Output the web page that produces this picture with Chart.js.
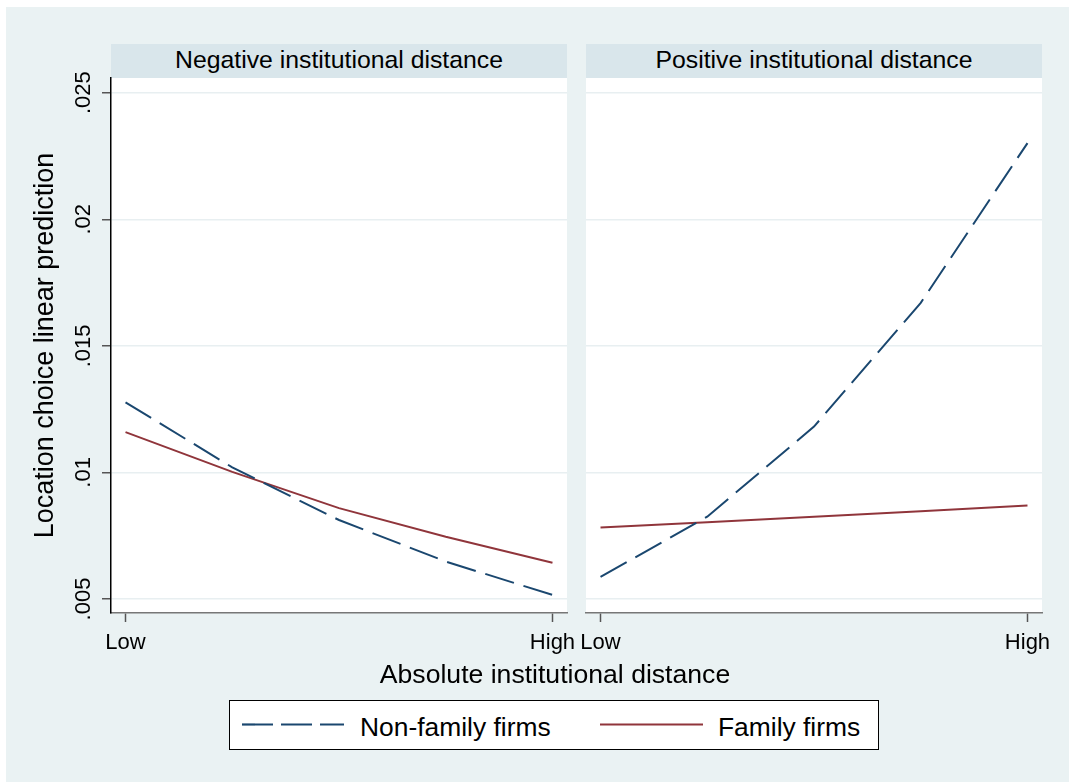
<!DOCTYPE html>
<html>
<head>
<meta charset="utf-8">
<script src="https://cdn.jsdelivr.net/npm/chart.js@4.4.1/dist/chart.umd.min.js"></script>
<style>
body { margin: 0; background: #fff; font-family: 'Liberation Sans', Arial, sans-serif; }
#page { position: relative; width: 1069px; height: 782px; overflow: hidden; }
.abs { position: absolute; }
#bg { left: 6px; top: 7px; right: 0; bottom: 0; background: #eaf2f3; }
.hdr { top: 44px; height: 34px; width: 456px; background: #d9e6eb; font-size: 24.8px; line-height: 32px; text-align: center; color: #000; }
.plot { top: 78px; height: 535px; width: 456px; background: #fff; }
canvas { position: absolute; }
.lg { position: absolute; font-size: 26.4px; line-height: 30px; color: #000; white-space: nowrap; }
</style>
</head>
<body>
<div id="page">
  <div id="bg" class="abs"></div>
  <div class="abs plot" style="left:111px"></div>
  <div class="abs plot" style="left:586px"></div>
  <div class="abs hdr" id="hdr0" style="left:111px"></div>
  <div class="abs hdr" id="hdr1" style="left:586px"></div>
  <canvas id="neg" width="600" height="620" style="left:0;top:40px"></canvas>
  <canvas id="pos" width="509" height="620" style="left:560px;top:40px"></canvas>
  <div class="abs" id="xtitle" style="left:0;width:1110px;top:659px;font-size:26.6px;line-height:30px;text-align:center;color:#000"></div>
  <div class="abs" style="left:229px;top:700px;width:648px;height:48px;border:1.5px solid #000;background:#fff">
    <svg class="abs" style="left:0;top:0" width="648" height="48">
      <line x1="12" y1="23.5" x2="114" y2="23.5" stroke="#1a476f" stroke-width="2.2" stroke-dasharray="31 8"/>
      <line x1="370" y1="23.5" x2="473" y2="23.5" stroke="#90353b" stroke-width="2.2"/>
    </svg>
    <span class="lg" id="lg0" style="left:130px;top:10.5px"></span>
    <span class="lg" id="lg1" style="left:488px;top:10.5px"></span>
  </div>
</div>
<script>
// x positions of the prediction points (Low .. High)
const levels = [0, 0.25, 0.5, 0.75, 1];
const levelLabels = ['Low', 'High'];
const yTicks = [0.005, 0.01, 0.015, 0.02, 0.025];

const seriesNames = ['Non-family firms', 'Family firms'];
const panelTitles = ['Negative institutional distance', 'Positive institutional distance'];

const negNonFamily = [0.01277, 0.01020, 0.00812, 0.00648, 0.00516];
const negFamily    = [0.01159, 0.01002, 0.00859, 0.00746, 0.00643];
const posNonFamily = [0.00587, 0.00825, 0.01181, 0.01670, 0.02301];
const posFamily    = [0.00782, 0.00803, 0.00825, 0.00847, 0.00869];

const yMin = 0.004447;
const yMax = 0.025581;

Chart.defaults.font.family = "'Liberation Sans', Arial, sans-serif";

document.getElementById('hdr0').textContent = panelTitles[0];
document.getElementById('hdr1').textContent = panelTitles[1];
document.getElementById('xtitle').textContent = 'Absolute institutional distance';
document.getElementById('lg0').textContent = seriesNames[0];
document.getElementById('lg1').textContent = seriesNames[1];

function pts(vals) {
  return vals.map((v, i) => ({ x: levels[i], y: v }));
}

function panel(id, nonFam, fam, showY) {
  new Chart(document.getElementById(id), {
    type: 'line',
    data: {
      datasets: [
        { label: seriesNames[0], data: pts(nonFam), borderColor: '#1a476f', borderWidth: 2,
          borderDash: [30, 10], pointRadius: 0, tension: 0, fill: false },
        { label: seriesNames[1], data: pts(fam), borderColor: '#90353b', borderWidth: 2,
          pointRadius: 0, tension: 0, fill: false }
      ]
    },
    options: {
      responsive: false,
      animation: false,
      layout: { padding: showY ? { top: 38, right: 33, left: 0, bottom: 0 } : { top: 38, left: 26, right: 27, bottom: 0 } },
      plugins: { legend: { display: false }, tooltip: { enabled: false } },
      scales: {
        x: {
          type: 'linear', min: -0.034, max: 1.034,
          afterBuildTicks: a => { a.ticks = [{ value: 0 }, { value: 1 }]; },
          afterFit: a => { a.height = 47; a.paddingLeft = 0; a.paddingRight = 0; },
          ticks: {
            callback: v => (v === 0 ? levelLabels[0] : levelLabels[1]),
            font: { size: 22 }, color: '#000', padding: 8,
            minRotation: 0, maxRotation: 0, autoSkip: false
          },
          grid: { drawOnChartArea: false, drawTicks: true, tickLength: 9, tickColor: '#555', tickWidth: 1.5 },
          border: { color: '#777', width: 1.5 }
        },
        y: {
          min: yMin, max: yMax,
          afterBuildTicks: a => { a.ticks = yTicks.map(v => ({ value: v })); },
          afterFit: a => { a.width = showY ? 111 : 0; a.paddingTop = 0; a.paddingBottom = 0; },
          ticks: {
            display: showY,
            callback: v => String(v).replace(/^0/, ''),
            font: { size: 22 }, color: '#000',
            minRotation: 90, maxRotation: 90, crossAlign: 'center', padding: -3, autoSkip: false
          },
          grid: { color: '#e8eff1', lineWidth: 1.5, drawTicks: showY, tickLength: 9, tickColor: '#555', tickWidth: 1.5 },
          border: { display: showY, color: '#000', width: 1.5 },
          title: {
            display: showY, text: 'Location choice linear prediction',
            font: { size: 27 }, color: '#000', padding: { top: 29, bottom: 0 }
          }
        }
      }
    }
  });
}

panel('neg', negNonFamily, negFamily, true);
panel('pos', posNonFamily, posFamily, false);
</script>
</body>
</html>
